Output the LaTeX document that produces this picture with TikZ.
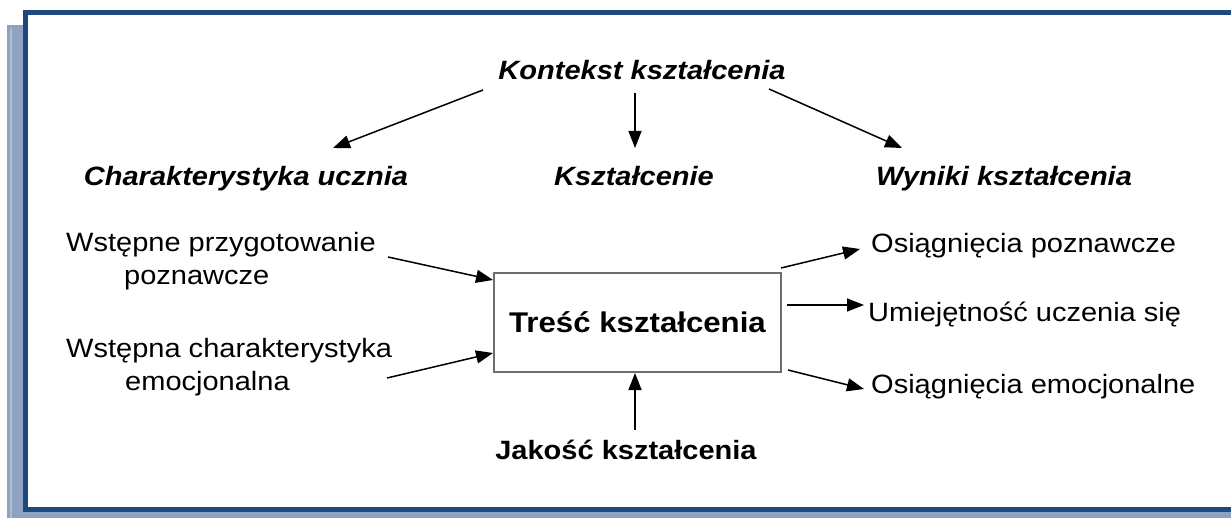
\documentclass[tikz,border=0pt]{standalone}
\usepackage{fontspec}
\setmainfont{Liberation Sans}[FakeStretch=1.095]
\usetikzlibrary{arrows.meta}
\definecolor{frameblue}{HTML}{1F497D}
\definecolor{shadowblue}{HTML}{8EA3BF}
\definecolor{shadowlight}{HTML}{AEBDD2}
\definecolor{boxgray}{HTML}{6E6E6E}
\begin{document}
\begin{tikzpicture}[x=1pt,y=-1pt,
  head/.style={font=\fontsize{26.5}{30}\selectfont\bfseries\itshape, inner sep=0pt, anchor=base},
  item/.style={font=\fontsize{26.5}{33}\selectfont, inner sep=0pt, align=left, anchor=base west},
  arr/.style={line width=1.5pt, -{Triangle[length=17pt,width=13pt]}},
]
\useasboundingbox (0,0) rectangle (1231,518);
% drop shadow of the frame
\fill[shadowblue] (7,25) rectangle (23,518);
\fill[shadowblue] (7,512) rectangle (1231,518);
\fill[shadowlight] (10,28) rectangle (12,518);
% frame
\fill[white] (28,15) rectangle (1231,507);
\draw[frameblue, line width=5pt] (1240,12.5) -- (25.5,12.5) -- (25.5,509.5) -- (1240,509.5);

% headings
\node[head] (ctx) at (642,80) {Kontekst kształcenia};
\node[head] (pupil) at (246,186) {Charakterystyka ucznia};
\node[head] (teach) at (634,186) {Kształcenie};
\node[head] (result) at (1004,186) {Wyniki kształcenia};

% central box
\node[draw=boxgray, line width=1.5pt, minimum width=287pt, minimum height=99pt,
      font=\fontsize{28.5}{32}\selectfont\bfseries] (box) at (637.5,322.5) {Treść kształcenia};
\node[font=\fontsize{26.5}{30}\selectfont\bfseries, inner sep=0pt, anchor=base] (quality) at (626,459) {Jakość kształcenia};

% inputs (anchored at the baseline of their last line)
\node[item] (in1) at (66,285) {Wstępne przygotowanie\\\hspace*{58pt}poznawcze};
\node[item] (in2) at (66,390) {Wstępna charakterystyka\\\hspace*{59pt}emocjonalna};

% outcomes
\node[item] (out1) at (871,253) {Osiągnięcia poznawcze};
\node[item] (out2) at (868,322) {Umiejętność uczenia się};
\node[item] (out3) at (871,393) {Osiągnięcia emocjonalne};

% connector ends
\coordinate (ctxL) at (483,90);   \coordinate (pupilT) at (333,148);
\coordinate (ctxM) at (635,93);   \coordinate (teachT) at (635,148);
\coordinate (ctxR) at (769,89);   \coordinate (resultT) at (902,148);
\coordinate (in1E) at (388,257);  \coordinate (boxW1) at (493,280);
\coordinate (in2E) at (387,378);  \coordinate (boxW2) at (493,353);
\coordinate (boxE1) at (781,268); \coordinate (out1W) at (860,249);
\coordinate (boxE2) at (787,305); \coordinate (out2W) at (864,305);
\coordinate (boxE3) at (788,370); \coordinate (out3W) at (864,389);
\coordinate (qualN) at (635,430); \coordinate (boxS) at (635,373);

\draw[arr] (ctxL) -- (pupilT);
\draw[arr] (ctxM) -- (teachT);
\draw[arr] (ctxR) -- (resultT);
\draw[arr] (in1E) -- (boxW1);
\draw[arr] (in2E) -- (boxW2);
\draw[arr] (boxE1) -- (out1W);
\draw[arr] (boxE2) -- (out2W);
\draw[arr] (boxE3) -- (out3W);
\draw[arr] (qualN) -- (boxS);
\end{tikzpicture}
\end{document}
